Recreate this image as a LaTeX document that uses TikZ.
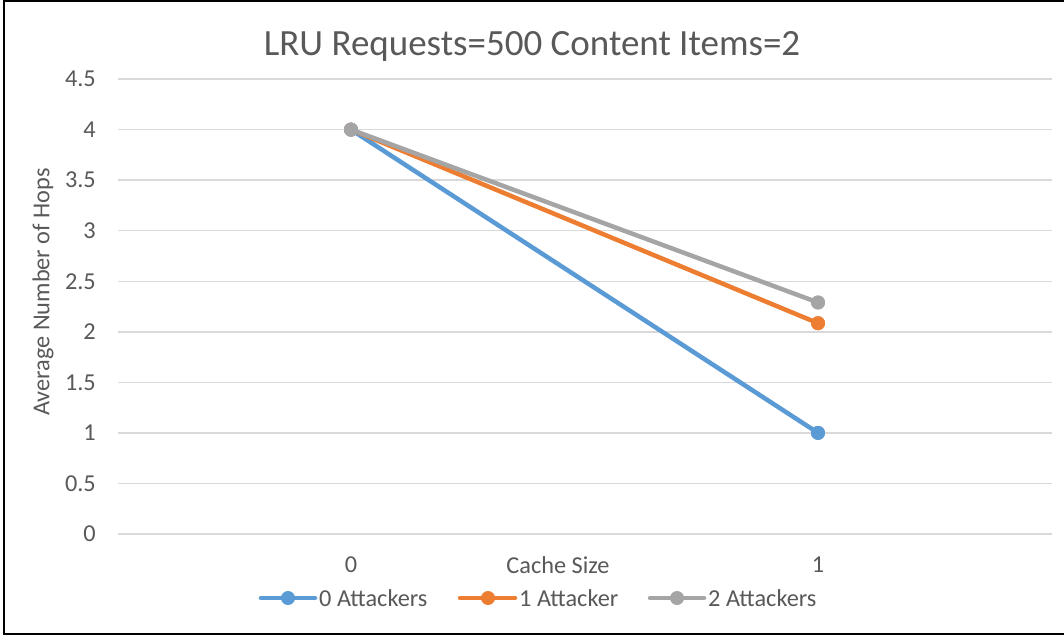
\documentclass[tikz,border=0pt]{standalone}
\usepackage{fontspec}
\setmainfont{Carlito}
\definecolor{txt}{HTML}{595959}
\definecolor{grid}{HTML}{D9D9D9}
\definecolor{sA}{HTML}{5B9BD5}
\definecolor{sB}{HTML}{ED7D31}
\definecolor{sC}{HTML}{A5A5A5}
\tikzset{
  gridline/.style={draw=grid, line width=1.5pt},
  ticklbl/.style={text=txt, font=\fontsize{24.3}{29}\selectfont, anchor=east, inner sep=0pt},
  axlbl/.style={text=txt, font=\fontsize{24.3}{29}\selectfont, inner sep=0pt},
  series/.style={line width=4.5pt, line cap=round, line join=round},
  dot/.style={circle, fill=#1, minimum size=14pt, inner sep=0pt},
}
\begin{document}
\begin{tikzpicture}[x=1pt, y=-1pt]
  \useasboundingbox (0,0) rectangle (1064,636);
  \fill[white] (0,0) rectangle (1064,636);
  % frame (top, left, bottom)
  \draw[black, line width=2pt] (1064,1) -- (4,1) -- (4,634) -- (1064,634);
  % title
  \node[text=txt, font=\fontsize{37}{42}\selectfont, inner sep=0pt] (title) at (532,46) {LRU Requests=500 Content Items=2};
  % horizontal grid and value labels
  \foreach \v/\t in {0/0, 0.5/0.5, 1/1, 1.5/1.5, 2/2, 2.5/2.5, 3/3, 3.5/3.5, 4/4, 4.5/4.5} {
    \draw[gridline] (118,{534-101.1*\v}) -- (1052,{534-101.1*\v});
    \node[ticklbl] at (96,{534-101.1*\v}) {\t};
  }
  % category labels and axis titles
  \node[axlbl] (c0) at (351,565) {0};
  \node[axlbl] (c1) at (818,565) {1};
  \node[axlbl] (xt) at (558,565) {Cache Size};
  \node[axlbl, rotate=90] (yt) at (43,292) {Average Number of Hops};
  % data points
  \node[dot=sA] (a0) at (351,{534-101.1*4}) {};
  \node[dot=sA] (a1) at (818,{534-101.1*1}) {};
  \node[dot=sB] (b0) at (351,{534-101.1*4}) {};
  \node[dot=sB] (b1) at (818,{534-101.1*2.085}) {};
  \node[dot=sC] (g0) at (351,{534-101.1*4}) {};
  \node[dot=sC] (g1) at (818,{534-101.1*2.29}) {};
  \draw[series, draw=sA] (a0.center) -- (a1.center);
  \draw[series, draw=sB] (b0.center) -- (b1.center);
  \draw[series, draw=sC] (g0.center) -- (g1.center);
  \node[dot=sA] at (a1) {};
  \node[dot=sB] at (b1) {};
  \node[dot=sC] at (g0) {};
  \node[dot=sC] at (g1) {};
  % legend
  \coordinate (la0) at (261,598); \coordinate (la1) at (315,598);
  \coordinate (lb0) at (460,598); \coordinate (lb1) at (515,598);
  \coordinate (lc0) at (650,598); \coordinate (lc1) at (704,598);
  \draw[series, draw=sA] (la0) -- (la1);
  \draw[series, draw=sB] (lb0) -- (lb1);
  \draw[series, draw=sC] (lc0) -- (lc1);
  \node[dot=sA] (lda) at (288,598) {};
  \node[dot=sB] (ldb) at (488,598) {};
  \node[dot=sC] (ldc) at (677,598) {};
  \node[axlbl, anchor=west] (lta) at (319,598) {0 Attackers};
  \node[axlbl, anchor=west] (ltb) at (519,598) {1 Attacker};
  \node[axlbl, anchor=west] (ltc) at (708,598) {2 Attackers};
\end{tikzpicture}
\end{document}
